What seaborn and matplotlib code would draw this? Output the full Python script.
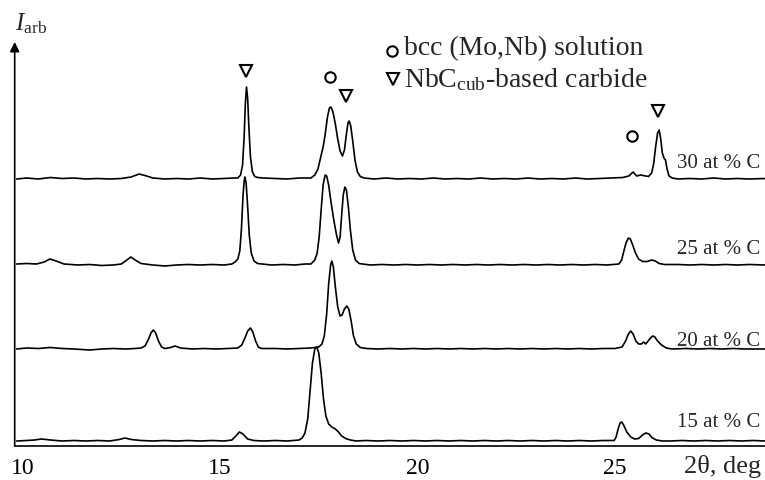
import numpy as np
import pandas as pd
import matplotlib
matplotlib.use("Agg")
import matplotlib.pyplot as plt
import seaborn as sns

# ---------------- data (2theta in deg, intensity in arbitrary units) ----------------
labels = ["15 at % C", "20 at % C", "25 at % C", "30 at % C"]
offsets = [0, 92, 176, 262]

tt_15 = [9.85, 10.1, 10.3, 10.48, 10.7, 11.0, 11.3, 11.6, 11.9, 12.2, 12.45, 12.59, 12.75, 13.0,
         13.3, 13.6, 13.9, 14.2, 14.5, 14.8, 15.1, 15.3, 15.4, 15.49, 15.58, 15.7, 15.85, 16.1,
         16.4, 16.7, 17.0, 17.08, 17.15, 17.22, 17.28, 17.34, 17.4, 17.45, 17.5, 17.56, 17.62,
         17.68, 17.75, 17.83, 17.92, 18.0, 18.08, 18.18, 18.3, 18.45, 18.7, 19.0, 19.3, 19.6,
         19.9, 20.2, 20.5, 20.8, 21.1, 21.4, 21.7, 22.0, 22.3, 22.6, 22.9, 23.2, 23.5, 23.8,
         24.1, 24.4, 24.7, 24.98, 25.03, 25.08, 25.13, 25.17, 25.22, 25.3, 25.4, 25.5, 25.6,
         25.7, 25.78, 25.86, 25.95, 26.05, 26.2, 26.4, 26.7, 27.0, 27.3, 27.6, 27.9, 28.2,
         28.5, 28.8]
in_15 = [0, 0.5, 1, 2, 1, 0, 0.5, 0, 0.5, 0, 1.5, 3, 1.5, 0.5,
         0, 0.5, 0, 0.5, 0, 0.5, 0, 1, 5, 9, 7, 2, 0.5, 0,
         0.5, 0, 1, 3, 8, 22, 50, 78, 92, 94, 88, 68, 42,
         25, 17, 14, 12, 9, 5, 2.5, 1, 0, 0.5, 0, 0.5, 0,
         0.5, 0, 0.5, 0, 0.5, 0, 0.5, 0, 0.5, 0, 0.5, 0, 0.5, 0,
         0.5, 0, 0.5, 0.5, 4, 12, 18, 19, 16, 9, 4, 2, 2.5,
         6, 8, 7, 3, 1, 0, 0, 0.5, 0, 0.5, 0, 0.5, 0,
         0.5, 0]

tt_20 = [9.85, 10.1, 10.4, 10.7, 11.0, 11.3, 11.7, 12.0, 12.3, 12.6, 12.85, 13.0, 13.1, 13.18,
         13.25, 13.31, 13.37, 13.44, 13.52, 13.6, 13.75, 13.86, 14.0, 14.3, 14.6, 14.9, 15.2,
         15.45, 15.55, 15.63, 15.7, 15.77, 15.83, 15.9, 15.97, 16.05, 16.4, 16.7, 17.0, 17.3,
         17.5, 17.58, 17.64, 17.7, 17.75, 17.8, 17.83, 17.87, 17.92, 17.98, 18.04, 18.09, 18.15,
         18.21, 18.26, 18.32, 18.38, 18.45, 18.55, 18.7, 19.0, 19.3, 19.6, 19.9, 20.2, 20.5,
         20.8, 21.1, 21.4, 21.7, 22.0, 22.3, 22.6, 22.9, 23.2, 23.5, 23.8, 24.1, 24.4, 24.7,
         25.0, 25.18, 25.27, 25.34, 25.4, 25.46, 25.53, 25.6, 25.67, 25.73, 25.78, 25.84, 25.9,
         25.96, 26.01, 26.08, 26.18, 26.3, 26.45, 26.8, 27.1, 27.4, 27.7, 28.0, 28.3, 28.8]
in_20 = [0, 1, 0.5, 1.5, 0.5, 0, -1, 0, 0.5, 0, 0.5, 1, 3, 9,
         16, 19, 16, 8, 2, 0.5, 1.5, 3, 1, 0, 0.5, 0, 0.5,
         1, 4, 11, 18, 21, 17, 8, 2, 0.5, 0.5, 0, 0.5, 1,
         2, 5, 13, 35, 65, 84, 88, 82, 62, 42, 33, 34, 40,
         43, 40, 28, 13, 5, 1.5, 0.5, 0, 0.5, 0, 0.5, 0, 0.5,
         0, 0.5, 0, 0.5, 0, 0.5, 0, 0.5, 0, 0.5, 0, 0.5, 0, 0.5,
         0.5, 2, 8, 15, 18, 15, 8, 5, 5, 7, 5, 8, 11,
         13, 12, 8, 4, 1, 0, 0.5, 0, 0.5, 0, 0.5, 0, 0]

tt_25 = [9.85, 10.1, 10.35, 10.55, 10.69, 10.85, 11.05, 11.4, 11.7, 12.0, 12.3, 12.5, 12.64,
         12.74, 12.85, 13.0, 13.3, 13.6, 13.9, 14.2, 14.5, 14.8, 15.1, 15.3, 15.38, 15.45, 15.5,
         15.54, 15.58, 15.61, 15.63, 15.66, 15.7, 15.74, 15.79, 15.86, 15.95, 16.3, 16.6, 16.9,
         17.15, 17.3, 17.4, 17.46, 17.51, 17.56, 17.61, 17.66, 17.7, 17.75, 17.81, 17.88, 17.95,
         18.0, 18.04, 18.08, 18.12, 18.16, 18.2, 18.25, 18.3, 18.36, 18.43, 18.52, 18.8, 19.1,
         19.4, 19.7, 20.0, 20.3, 20.6, 20.9, 21.2, 21.5, 21.8, 22.1, 22.4, 22.7, 23.0, 23.3,
         23.6, 23.9, 24.2, 24.5, 24.8, 25.1, 25.17, 25.22, 25.28, 25.34, 25.39, 25.45, 25.52,
         25.6, 25.7, 25.82, 25.93, 26.02, 26.12, 26.25, 26.6, 26.9, 27.2, 27.5, 27.8, 28.1,
         28.4, 28.8]
in_25 = [1, 1.5, 1, 3, 6, 4, 1, 0, 0.5, -0.5, 0, 1, 5,
         8, 5, 1.5, 0, -1, 0, 0.5, 0, 0.5, 0, 1, 3, 6, 14,
         35, 68, 84, 88, 82, 58, 30, 12, 4, 1.5, 0, 0.5, 0,
         1, 1, 5, 12, 28, 55, 80, 90, 89, 80, 63, 45, 30,
         22, 28, 50, 70, 78, 75, 58, 35, 15, 5, 1.5, 0, 0.5,
         0, 0.5, 0, 0.5, 0, 0.5, 0, 0.5, 0, 0.5, 0, 0.5, 0, 0.5,
         0, 0.5, 0, 0.5, 0, 1, 5, 13, 22, 27, 26, 20, 12,
         6, 3.5, 3.5, 5, 4, 1.5, 0.5, 0.5, 0, 0.5, 0, 0.5, 0,
         0.5, 0]

tt_30 = [9.85, 10.1, 10.4, 10.7, 11.0, 11.3, 11.6, 11.9, 12.2, 12.5, 12.75, 12.95, 13.1, 13.3,
         13.6, 13.9, 14.2, 14.5, 14.8, 15.1, 15.35, 15.45, 15.52, 15.57, 15.61, 15.64, 15.67,
         15.7, 15.73, 15.77, 15.82, 15.88, 15.95, 16.1, 16.4, 16.7, 17.0, 17.3, 17.4, 17.48,
         17.55, 17.61, 17.66, 17.72, 17.77, 17.81, 17.86, 17.92, 17.98, 18.04, 18.1, 18.15, 18.2,
         18.24, 18.27, 18.31, 18.36, 18.42, 18.48, 18.55, 18.65, 18.9, 19.2, 19.5, 19.8, 20.1,
         20.4, 20.7, 21.0, 21.3, 21.6, 21.9, 22.2, 22.5, 22.8, 23.1, 23.4, 23.7, 24.0, 24.3,
         24.6, 24.9, 25.2, 25.35, 25.46, 25.55, 25.65, 25.78, 25.85, 25.93, 25.98, 26.03, 26.08,
         26.12, 26.16, 26.2, 26.24, 26.28, 26.32, 26.37, 26.45, 26.6, 26.9, 27.2, 27.5, 27.8,
         28.1, 28.4, 28.8]
in_30 = [0, 1, 0, 1.5, 0.5, 1, 0, 0.5, 0, 0.5, 2, 5, 3.5, 1,
         0, 0.5, 0, 1, 0, 0.5, 1, 1, 4, 14, 42, 75, 92,
         80, 52, 22, 7, 2.5, 1.5, 1, 0.5, 0, 1, 1, 4, 10,
         22, 32, 44, 62, 71, 72, 67, 55, 40, 28, 23, 29, 45,
         56, 58, 53, 38, 18, 7, 2.5, 1, 0, 1, 0, 0.5, 0,
         1, 0, 0.5, 0, 1, 0, 0.5, 0, 1, 0, 0.5, 0, 1, 0,
         0.5, 1, 1.5, 3, 7, 3, 4, 3, 2.5, 6, 15, 32, 46,
         49, 40, 26, 21, 19, 10, 3, 1, 0, 0.5, 0, 1, 0,
         0.5, 0, 0.5]

# phase markers placed above peaks
tri_x = [15.65, 18.18, 26.10]
tri_y = [370, 345, 330]
circ_x = [17.78, 25.43]
circ_y = [364, 305]

frames = []
for lab, off, tt, iv in zip(labels, offsets,
                             [tt_15, tt_20, tt_25, tt_30],
                             [in_15, in_20, in_25, in_30]):
    frames.append(pd.DataFrame({"tt": tt, "I": np.array(iv) + off, "sample": lab}))
df = pd.concat(frames, ignore_index=True)

# ---------------- style ----------------
sns.set_theme(style="white")
plt.rcParams["font.family"] = ["Liberation Serif", "DejaVu Serif"]
plt.rcParams["mathtext.fontset"] = "custom"
plt.rcParams["mathtext.rm"] = "Liberation Serif"
plt.rcParams["mathtext.it"] = "Liberation Serif:italic"

W, H = 765, 481
fig = plt.figure(figsize=(W / 100, H / 100), dpi=100)
ax_left, ax_right, ax_bot, ax_top = 14.7, 765, 447, 43
ax = fig.add_axes([ax_left / W, 1 - ax_bot / H, (ax_right - ax_left) / W, (ax_bot - ax_top) / H])

for lab in labels:
    sub = df[df["sample"] == lab]
    sns.lineplot(data=sub, x="tt", y="I", color="black", lw=1.2, ax=ax,
                 estimator=None, sort=False, legend=False)

ax.plot(tri_x, tri_y, linestyle="none", marker="v", ms=8, mfc="white", mec="black", mew=1.5)
ax.plot(circ_x, circ_y, linestyle="none", marker="o", ms=7.5, mfc="white", mec="black", mew=1.5)

ax.set_xlim(9.8, 28.8)
ax.set_ylim(-5, 399)
ax.set_xticks([10, 15, 20, 25])
ax.set_xticklabels(["10", "15", "20", "25"])
ax.set_yticks([])
ax.set_xlabel("")
ax.set_ylabel("")
ax.tick_params(axis="x", direction="in", length=6, width=1, labelsize=17, pad=8, colors="black")
for s in ["top", "right", "left"]:
    ax.spines[s].set_visible(False)
ax.spines["bottom"].set_color("black")
ax.spines["bottom"].set_linewidth(1.2)
ax.annotate("", xy=(0, 1), xytext=(0, 0), xycoords="axes fraction",
            arrowprops=dict(arrowstyle="-|>", lw=1.2, color="black", mutation_scale=14,
                            shrinkA=0, shrinkB=0))

# curve labels
label_y = [423, 342, 250, 163]
for lab, yp in zip(labels, label_y):
    fig.text(760 / W, 1 - yp / H, lab, ha="right", va="center", fontsize=15)

fig.text(723 / W, 1 - 467 / H, "2θ, deg", ha="center", va="center", fontsize=19)
fig.text(15 / W, 1 - 24 / H, r"$I_{\mathrm{arb}}$", ha="left", va="center", fontsize=18)

# legend
fig.lines.append(plt.Line2D([392 / W], [1 - 52 / H], transform=fig.transFigure, marker="o",
                            ms=7.5, mfc="white", mec="black", mew=1.5, linestyle="none"))
fig.lines.append(plt.Line2D([393 / W], [1 - 80 / H], transform=fig.transFigure, marker="v",
                            ms=8, mfc="white", mec="black", mew=1.5, linestyle="none"))
fig.text(404 / W, 1 - 49 / H, "bcc (Mo,Nb) solution", ha="left", va="center", fontsize=20)
fig.text(404 / W, 1 - 80 / H, r"NbC$_{\mathrm{cub}}$-based carbide", ha="left", va="center", fontsize=20)

fig.savefig("out.png", dpi=100)
